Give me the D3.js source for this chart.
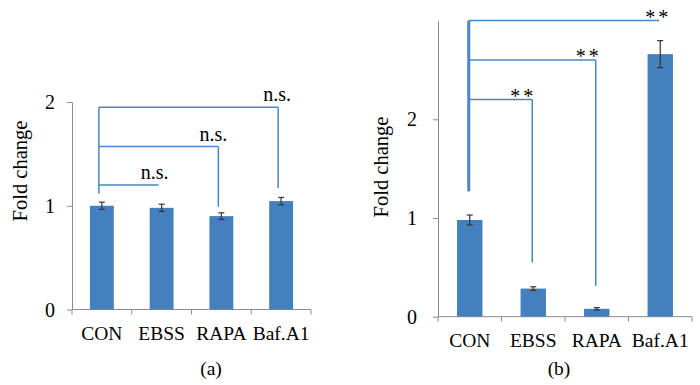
<!DOCTYPE html>
<html>
<head>
<meta charset="utf-8">
<script src="https://cdn.jsdelivr.net/npm/d3@7"></script>
<style>
  body { margin: 0; background: #fff; }
</style>
</head>
<body>
<svg id="chart" width="700" height="385"></svg>
<script>
// dữ liệu
const categories = ["CON", "EBSS", "RAPA", "Baf.A1"];

const valuesA = [1.0, 0.98, 0.90, 1.045];
const errorsA = [0.035, 0.035, 0.032, 0.035];
const valuesB = [0.98, 0.285, 0.08, 2.66];
const errorsB = [0.05, 0.018, 0.012, 0.137];

const yTicksA = [0, 1, 2];
const yTicksB = [0, 1, 2];

// brackets: nối CON -> nhóm khác
const bracketTargetsA = ["EBSS", "RAPA", "Baf.A1"];
const bracketLevelsA = [1.2, 1.57, 1.95];
const bracketDropsA = [null, 0.99, 1.17];
const bracketStartA = 1.115;
const bracketLabelsA = ["n.s.", "n.s.", "n.s."];

const bracketTargetsB = ["EBSS", "RAPA", "Baf.A1"];
const bracketLevelsB = [2.2, 2.6, 3.0];
const bracketDropsB = [0.55, 0.31, null];
const bracketStartB = 1.27;
const bracketLabelsB = ["**", "**", "**"];

const svg = d3.select("#chart");
const barColor = "#4480bd", lineColor = "#4a86c8", axisColor = "#8c8c8c";
const fontFam = "'Liberation Serif', serif";

function drawPanel(p) {
  const x = d3.scaleBand().domain(categories)
    .range([p.left, p.right]).paddingInner(0.6).paddingOuter(0.3);
  const y = d3.scaleLinear().domain([0, p.ymax]).range([p.bottom, p.top]);
  const cx = c => x(c) + x.bandwidth() / 2;
  const step = x.step();
  const g = svg.append("g");

  // trục Y
  const ya = g.append("g").attr("transform", `translate(${p.left},0)`)
    .call(d3.axisLeft(y).tickValues(p.yTicks).tickSize(5).tickSizeOuter(0).tickFormat(""));
  ya.select(".domain").attr("stroke", axisColor);
  ya.selectAll(".tick line").attr("stroke", axisColor);

  g.selectAll("text.ytick").data(p.yTicks).enter().append("text")
    .attr("class", "ytick")
    .attr("x", p.left - p.yLabelGap)
    .attr("y", d => y(d))
    .attr("dy", "0.35em")
    .attr("text-anchor", "end")
    .style("font-family", fontFam)
    .style("font-size", "20px")
    .text(d => d);

  // trục X
  g.append("line")
    .attr("x1", p.left).attr("x2", p.right)
    .attr("y1", y(0)).attr("y2", y(0))
    .attr("stroke", axisColor);
  g.selectAll("line.xtick").data(d3.range(categories.length + 1)).enter().append("line")
    .attr("class", "xtick")
    .attr("x1", i => p.left + i * step).attr("x2", i => p.left + i * step)
    .attr("y1", y(0)).attr("y2", y(0) + 5)
    .attr("stroke", axisColor);

  g.selectAll("text.xlab").data(categories).enter().append("text")
    .attr("class", "xlab")
    .attr("x", d => cx(d))
    .attr("y", y(0) + 30)
    .attr("text-anchor", "middle")
    .style("font-family", fontFam)
    .style("font-size", "19.5px")
    .text(d => d);

  // cột
  g.selectAll("rect").data(p.values).enter().append("rect")
    .attr("x", (d, i) => x(categories[i]))
    .attr("y", d => y(d))
    .attr("width", x.bandwidth())
    .attr("height", d => y(0) - y(d))
    .attr("fill", barColor);

  // error bars
  p.values.forEach((v, i) => {
    const c = cx(categories[i]), e = p.errors[i];
    g.append("line").attr("x1", c).attr("x2", c)
      .attr("y1", y(v - e)).attr("y2", y(v + e))
      .attr("stroke", "#333").attr("stroke-width", 1.2);
    [v - e, v + e].forEach(t => {
      g.append("line").attr("x1", c - 3).attr("x2", c + 3)
        .attr("y1", y(t)).attr("y2", y(t))
        .attr("stroke", "#333").attr("stroke-width", 1.2);
    });
  });

  // brackets
  const x0 = cx("CON") + p.bracketDx;
  g.append("line").attr("x1", x0).attr("x2", x0)
    .attr("y1", y(p.bracketStart)).attr("y2", y(d3.max(p.levels)))
    .attr("stroke", lineColor).attr("stroke-width", p.mainWidth);
  p.targets.forEach((t, i) => {
    const x1 = cx(t) + p.bracketDx;
    g.append("line").attr("x1", x0).attr("x2", x1)
      .attr("y1", y(p.levels[i])).attr("y2", y(p.levels[i]))
      .attr("stroke", lineColor).attr("stroke-width", 1.5);
    if (p.drops[i] != null) {
      g.append("line").attr("x1", x1).attr("x2", x1)
        .attr("y1", y(p.levels[i])).attr("y2", y(p.drops[i]))
        .attr("stroke", lineColor).attr("stroke-width", 1.5);
    }
    g.append("text")
      .attr("x", x1 + p.labelDx[i])
      .attr("y", y(p.levels[i]) + p.labelDy)
      .attr("text-anchor", "middle")
      .style("font-family", fontFam)
      .style("font-size", p.labelSize)
      .style("letter-spacing", p.labelSpacing)
      .text(p.labels[i]);
  });

  // tiêu đề trục Y
  g.append("text")
    .attr("transform", `translate(${p.titleX},${p.titleY}) rotate(-90)`)
    .attr("text-anchor", "middle")
    .style("font-family", fontFam)
    .style("font-size", "20.5px")
    .text("Fold change");

  g.append("text")
    .attr("x", p.capX).attr("y", 375)
    .attr("text-anchor", "middle")
    .style("font-family", fontFam)
    .style("font-size", "19.5px")
    .text(p.caption);
}

drawPanel({
  left: 72, right: 311, top: 102, bottom: 309.5, ymax: 2,
  values: valuesA, errors: errorsA, yTicks: yTicksA, yLabelGap: 17,
  targets: bracketTargetsA, levels: bracketLevelsA, drops: bracketDropsA,
  bracketStart: bracketStartA, labels: bracketLabelsA,
  bracketDx: -3, mainWidth: 1.5, labelDx: [-4, -5, -1], labelDy: -6,
  labelSize: "20px", labelSpacing: "0px",
  titleX: 27, titleY: 171, capX: 211, caption: "(a)"
});

drawPanel({
  left: 438, right: 692, top: 20.6, bottom: 316.7, ymax: 3,
  values: valuesB, errors: errorsB, yTicks: yTicksB, yLabelGap: 21,
  targets: bracketTargetsB, levels: bracketLevelsB, drops: bracketDropsB,
  bracketStart: bracketStartB, labels: bracketLabelsB,
  bracketDx: -1, mainWidth: 3, labelDx: [-9, -7, -1], labelDy: 3,
  labelSize: "20px", labelSpacing: "3px",
  titleX: 388, titleY: 167, capX: 559, caption: "(b)"
});
</script>
</body>
</html>
